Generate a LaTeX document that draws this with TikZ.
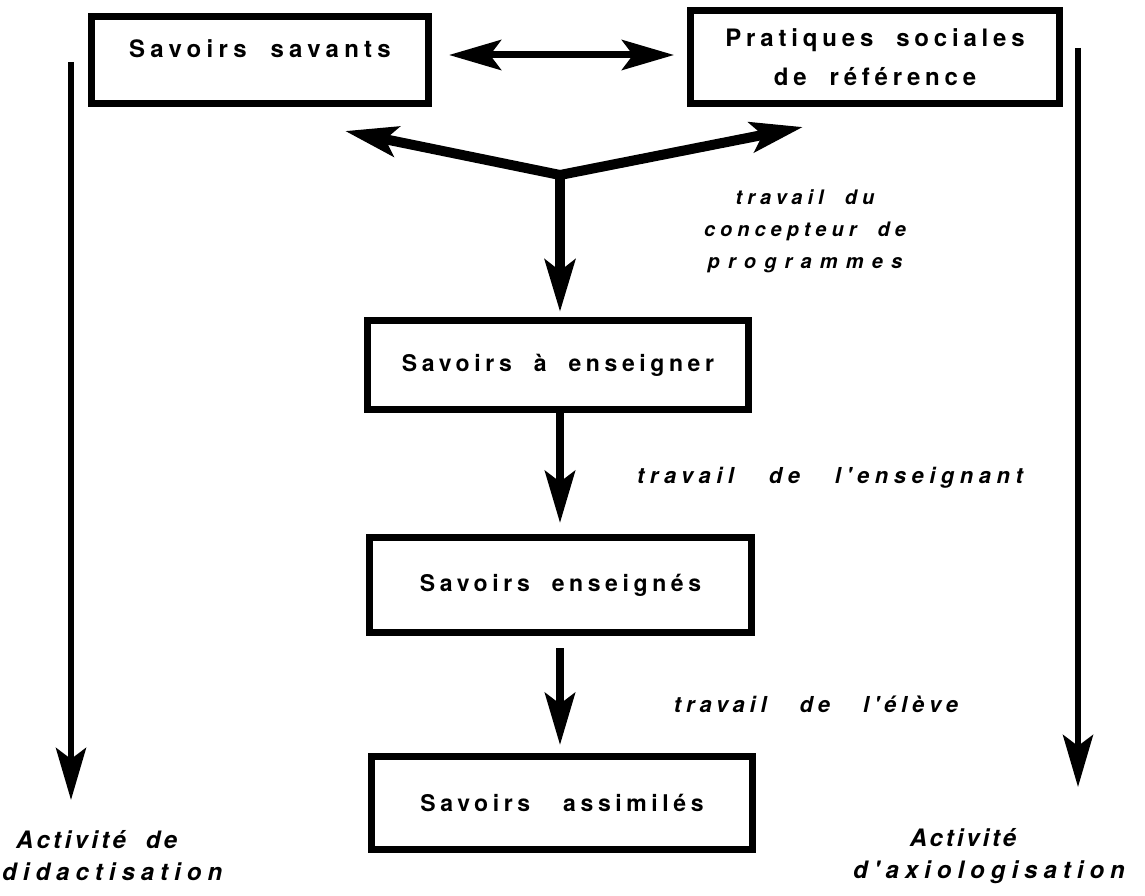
\documentclass[tikz,border=0pt]{standalone}
\usepackage{fontspec}
\setmainfont{TeX Gyre Heros}
\newfontfamily\bxf{TeX Gyre Heros}[LetterSpace=20]
\newfontfamily\lbf{TeX Gyre Heros}[LetterSpace=22]
\usetikzlibrary{arrows.meta}
\newcommand{\lsp}[1]{\addfontfeature{LetterSpace=#1}}
\begin{document}
\begin{tikzpicture}[x=1pt,y=-1pt,
  box/.style={draw, line width=7pt, inner sep=0pt, align=center,
    font=\bxf\bfseries\fontsize{23}{39}\selectfont},
  lab/.style={align=center, inner sep=0pt,
    font=\lbf\bfseries\itshape\fontsize{22}{32}\selectfont},
  tipA/.style={-{Stealth[length=52pt,width=30pt,inset=11pt]}},
  ybr/.style={tipA, line width=10pt},
  down/.style={tipA, line width=8pt},
  side/.style={tipA, line width=6pt},
  dbl/.style={{Stealth[length=52pt,width=30pt,inset=11pt]}-{Stealth[length=52pt,width=30pt,inset=11pt]}, line width=7pt}
]
\useasboundingbox (0,0) rectangle (1145,896);

% boxes
\node[box, font=\bxf\bfseries\fontsize{24}{39}\selectfont\lsp{22}, minimum width=337pt, minimum height=87pt, text depth=22pt] (b1) at (260,60) {Savoirs~~savants};
\node[box, font=\bxf\bfseries\fontsize{24}{39}\selectfont, minimum width=369pt, minimum height=93pt] (b2) at (875,57) {Pratiques~~sociales\\de~~référence};
\node[box, minimum width=381pt, minimum height=89pt] (b3) at (558,365) {Savoirs~~à~~enseigner};
\node[box, minimum width=382pt, minimum height=95pt] (b4) at (560.5,585) {Savoirs~~enseignés};
\node[box, minimum width=381pt, minimum height=93pt] (b5) at (562,803) {Savoirs~~~assimilés};

% coordinates
\coordinate (J) at (560,175);
\coordinate (cL) at (345,131);
\coordinate (cR) at (803,127);
\coordinate (L1) at (71,62);
\coordinate (L2) at (71,800);
\coordinate (R1) at (1078,48);
\coordinate (R2) at (1078,787);

% connectors
\draw[dbl, shorten <=17pt, shorten >=13pt] ([yshift=5pt]b1.east) -- ([yshift=2pt]b2.west);
\draw[ybr] (J) -- (cL);
\draw[ybr] (J) -- (cR);
\draw[ybr, shorten >=5pt] (J) -- (b3.north -| J);
\draw[down, shorten >=11pt] (b3.south -| J) -- (b4.north -| J);
\draw[down, shorten <=12pt, shorten >=8pt] (b4.south -| J) -- (b5.north -| J);
\draw[side] (L1) -- (L2);
\draw[side] (R1) -- (R2);

% labels
\node[lab, font=\lbf\bfseries\itshape\fontsize{20}{32}\selectfont\lsp{25}] (t1) at (805,231) {travail~~du\\concepteur~~de\\{\lsp{41}programmes}};
\node[lab, font=\lbf\bfseries\itshape\fontsize{22}{32}\selectfont\lsp{25}] (t2) at (830,478) {travail~~~de~~~l'enseignant};
\node[lab] (t3) at (816,704) {travail~~~de~~~l'élève};
\node[lab, align=left, anchor=west, font=\lbf\bfseries\itshape\fontsize{24}{32}\selectfont] (a1) at (2,856) {\hspace*{14pt}{\lsp{14}Activité~~de}\\{\lsp{25}didactisation}};
\node[lab, font=\lbf\bfseries\itshape\fontsize{24}{32}\selectfont] (a2) at (989,856) {\hspace*{-52pt}{\lsp{12}Activité}\\{\lsp{25}d'axiologisation}};
\end{tikzpicture}
\end{document}
